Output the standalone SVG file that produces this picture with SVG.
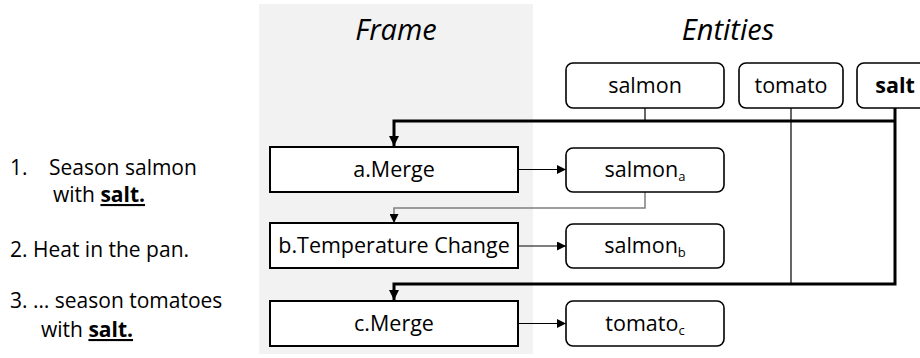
<svg xmlns="http://www.w3.org/2000/svg" width="920" height="358" viewBox="0 0 920 358">
  <defs>
    <marker id="ah" viewBox="0 0 10 10" refX="10" refY="5" markerWidth="10" markerHeight="10" markerUnits="userSpaceOnUse" orient="auto">
      <path d="M0,0 L10,5 L0,10 Z" fill="#000"/>
    </marker>
    <marker id="ahs" viewBox="0 0 10 10" refX="10" refY="5" markerWidth="9" markerHeight="9" markerUnits="userSpaceOnUse" orient="auto">
      <path d="M0,0 L10,5 L0,10 Z" fill="#000"/>
    </marker>
  </defs>
  <style>
    text { font-family: "Open Sans", "Noto Sans", "Liberation Sans", sans-serif; fill: #000; }
    .hdr { font-size: 29px; font-style: italic; text-anchor: middle; }
    .lbl { font-size: 21.5px; text-anchor: middle; }
    .step { font-size: 21px; }
    .frame { fill: #fff; stroke: #000; stroke-width: 2; }
    .ent { fill: #fff; stroke: #000; stroke-width: 1.6; }
    .thin { fill: none; stroke: #000; stroke-width: 1.2; }
    .gray { fill: none; stroke: #7f7f7f; stroke-width: 1.5; }
    .thick { fill: none; stroke: #000; stroke-width: 3; }
    .sub { font-size: 13px; }
    .salt { font-weight: bold; text-decoration: underline; }
  </style>

  <rect x="259" y="4" width="274" height="350" fill="#f2f2f2"/>
  <text class="hdr" x="396" y="40">Frame</text>
  <text class="hdr" x="728" y="40">Entities</text>

  <g id="steps">
    <text class="step" x="10" y="175">1.<tspan x="49">Season salmon</tspan></text>
    <text class="step" x="53" y="202">with <tspan class="salt">salt.</tspan></text>
    <text class="step" x="10" y="257">2. Heat in the pan.</text>
    <text class="step" x="10" y="308">3. … season tomatoes</text>
    <text class="step" x="41" y="337">with <tspan class="salt">salt.</tspan></text>
  </g>

  <g id="connectors">
    <path class="thin" d="M645,108 V121"/>
    <path class="thin" d="M791,108 V284"/>
    <path class="thick" d="M895,108 V284 H394 V300" marker-end="url(#ah)"/>
    <path class="thick" d="M895,121 H394 V146" marker-end="url(#ah)"/>
    <path class="thin" d="M518,169.5 H566" marker-end="url(#ahs)"/>
    <path class="gray" d="M645,192 V208 H394 V223" marker-end="url(#ahs)"/>
    <path class="thin" d="M518,246 H566" marker-end="url(#ahs)"/>
    <path class="thin" d="M518,323.5 H566" marker-end="url(#ahs)"/>
  </g>

  <g id="ent-salmon">
    <rect class="ent" x="566" y="63" width="158" height="45" rx="7"/>
    <text class="lbl" x="645" y="93">salmon</text>
  </g>
  <g id="ent-tomato">
    <rect class="ent" x="739" y="63" width="104" height="45" rx="7"/>
    <text class="lbl" x="791" y="93">tomato</text>
  </g>
  <g id="ent-salt">
    <rect class="ent" x="857" y="63" width="80" height="45" rx="7"/>
    <text class="lbl" x="895" y="93" font-weight="bold">salt</text>
  </g>

  <g id="frame-a">
    <rect class="frame" x="270" y="147" width="248" height="45"/>
    <text class="lbl" x="394" y="177">a.Merge</text>
  </g>
  <g id="frame-b">
    <rect class="frame" x="270" y="223" width="248" height="45"/>
    <text class="lbl" x="394" y="253">b.Temperature Change</text>
  </g>
  <g id="frame-c">
    <rect class="frame" x="270" y="301" width="248" height="45"/>
    <text class="lbl" x="394" y="331">c.Merge</text>
  </g>

  <g id="ent-salmon-a">
    <rect class="ent" x="566" y="148" width="158" height="44" rx="7"/>
    <text class="lbl" x="645" y="177">salmon<tspan class="sub" dy="4">a</tspan></text>
  </g>
  <g id="ent-salmon-b">
    <rect class="ent" x="566" y="224" width="158" height="44" rx="7"/>
    <text class="lbl" x="645" y="253">salmon<tspan class="sub" dy="4">b</tspan></text>
  </g>
  <g id="ent-tomato-c">
    <rect class="ent" x="566" y="301" width="158" height="45" rx="7"/>
    <text class="lbl" x="645" y="331">tomato<tspan class="sub" dy="4">c</tspan></text>
  </g>
</svg>
